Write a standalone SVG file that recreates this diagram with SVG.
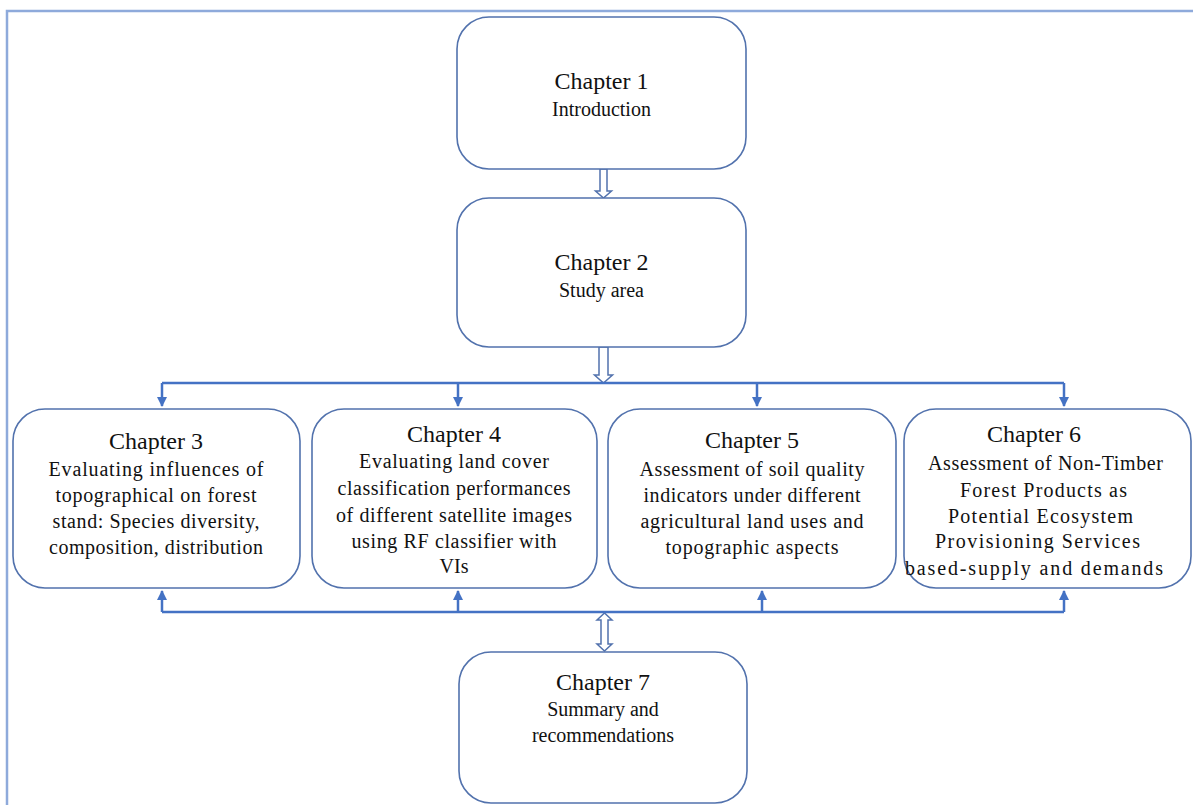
<svg xmlns="http://www.w3.org/2000/svg" width="1193" height="805" viewBox="0 0 1193 805">
<style>
.box{fill:#fff;stroke:#5272ad;stroke-width:1.6}
.t{font-family:"Liberation Serif","Times New Roman",serif;fill:#111;text-anchor:middle}
.h{font-size:24px}
.b{font-size:20px}
.c{fill:none;stroke:#4472c4;stroke-width:2.5}
.ha{fill:#fff;stroke:#5272ad;stroke-width:1.5}
</style>
<defs>
<marker id="ah" viewBox="0 0 10 10" refX="9" refY="5" markerWidth="4" markerHeight="4" orient="auto" markerUnits="strokeWidth">
<path d="M0,0 L10,5 L0,10 Z" fill="#4472c4"/>
</marker>
</defs>
<rect width="1193" height="805" fill="#fff"/>
<path d="M7,805 V11 H1193" fill="none" stroke="#8eaadb" stroke-width="2.5"/>

<g id="connectors">
<path class="ha" d="M600,169 V191 H595.5 L603.5,198 L611.5,191 H607 V169 Z"/>
<path class="ha" d="M599,347 V375 H594.5 L603.5,383 L612.5,375 H608 V347 Z"/>
<path class="ha" d="M604.5,613 L612,620 H608 V644 H612 L604.5,651 L597,644 H601 V620 H597 Z"/>
<path class="c" d="M162,383 H1064"/>
<path class="c" d="M162,383 V406" marker-end="url(#ah)"/>
<path class="c" d="M458,383 V406" marker-end="url(#ah)"/>
<path class="c" d="M757,383 V406" marker-end="url(#ah)"/>
<path class="c" d="M1064,383 V406" marker-end="url(#ah)"/>
<path class="c" d="M162,612 H1064"/>
<path class="c" d="M162,612 V591" marker-end="url(#ah)"/>
<path class="c" d="M458,612 V591" marker-end="url(#ah)"/>
<path class="c" d="M762,612 V591" marker-end="url(#ah)"/>
<path class="c" d="M1064,612 V591" marker-end="url(#ah)"/>
</g>

<g id="ch1">
<rect class="box" x="457" y="17" width="289" height="152" rx="32"/>
<text class="t h" x="601.5" y="89">Chapter 1</text>
<text class="t b" x="601.5" y="116">Introduction</text>
</g>

<g id="ch2">
<rect class="box" x="457" y="198" width="289" height="149" rx="32"/>
<text class="t h" x="601.5" y="270">Chapter 2</text>
<text class="t b" x="601.5" y="297">Study area</text>
</g>

<g id="ch3">
<rect class="box" x="13" y="409" width="287" height="179" rx="32"/>
<text class="t h" x="156" y="449">Chapter 3</text>
<text class="t b" x="156" y="476" textLength="215" lengthAdjust="spacing">Evaluating influences of</text>
<text class="t b" x="156" y="502" textLength="201" lengthAdjust="spacing">topographical on forest</text>
<text class="t b" x="156" y="528" textLength="207" lengthAdjust="spacing">stand: Species diversity,</text>
<text class="t b" x="156" y="554" textLength="214" lengthAdjust="spacing">composition, distribution</text>
</g>

<g id="ch4">
<rect class="box" x="312" y="409" width="285" height="179" rx="32"/>
<text class="t h" x="454" y="442">Chapter 4</text>
<text class="t b" x="454" y="468" textLength="190" lengthAdjust="spacing">Evaluating land cover</text>
<text class="t b" x="454" y="495" textLength="233" lengthAdjust="spacing">classification performances</text>
<text class="t b" x="454" y="522" textLength="236" lengthAdjust="spacing">of different satellite images</text>
<text class="t b" x="454" y="548" textLength="205" lengthAdjust="spacing">using RF classifier with</text>
<text class="t b" x="454" y="573">VIs</text>
</g>

<g id="ch5">
<rect class="box" x="608" y="409" width="288" height="179" rx="32"/>
<text class="t h" x="752" y="448">Chapter 5</text>
<text class="t b" x="752" y="476" textLength="225" lengthAdjust="spacing">Assessment of soil quality</text>
<text class="t b" x="752" y="502" textLength="217" lengthAdjust="spacing">indicators under different</text>
<text class="t b" x="752" y="528" textLength="223" lengthAdjust="spacing">agricultural land uses and</text>
<text class="t b" x="752" y="554" textLength="173" lengthAdjust="spacing">topographic aspects</text>
</g>

<g id="ch6">
<rect class="box" x="904" y="409" width="287" height="179" rx="32"/>
<text class="t h" x="1034" y="442">Chapter 6</text>
<text class="t b" x="1045.5" y="470" textLength="235" lengthAdjust="spacing">Assessment of Non-Timber</text>
<text class="t b" x="1043.5" y="497" textLength="167" lengthAdjust="spacing">Forest Products as</text>
<text class="t b" x="1040.5" y="523" textLength="185" lengthAdjust="spacing">Potential Ecosystem</text>
<text class="t b" x="1037.5" y="548" textLength="205" lengthAdjust="spacing">Provisioning Services</text>
<text class="t b" x="1034" y="575" textLength="258" lengthAdjust="spacing">based-supply and demands</text>
</g>

<g id="ch7">
<rect class="box" x="459" y="652" width="288" height="151" rx="32"/>
<text class="t h" x="603" y="690">Chapter 7</text>
<text class="t b" x="603" y="716">Summary  and</text>
<text class="t b" x="603" y="742">recommendations</text>
</g>
</svg>
